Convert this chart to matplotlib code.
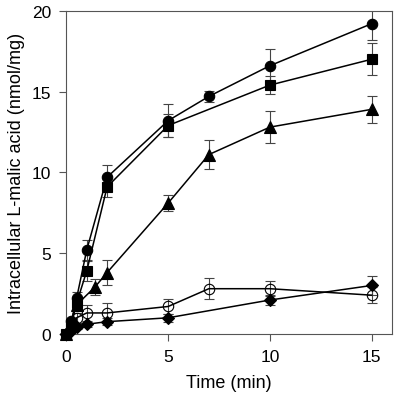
import matplotlib
matplotlib.use("Agg")
import matplotlib.pyplot as plt

plt.rcParams['font.family'] = ['Liberation Sans', 'DejaVu Sans']

# filled circles
t_circ = [0, 0.25, 0.5, 1, 2, 5, 7, 10, 15]
y_circ = [0, 0.8, 2.2, 5.2, 9.7, 13.2, 14.7, 16.6, 19.2]
e_circ = [0, 0.2, 0.4, 0.6, 0.75, 1.0, 0.35, 1.05, 1.0]

# filled squares
t_sq = [0, 0.25, 0.5, 1, 2, 5, 10, 15]
y_sq = [0, 0.6, 1.9, 3.9, 9.1, 12.9, 15.4, 17.0]
e_sq = [0, 0.2, 0.4, 0.6, 0.6, 0.7, 0.55, 1.0]

# filled triangles
t_tri = [0, 0.5, 1.4, 2, 5, 7, 10, 15]
y_tri = [0, 1.8, 2.9, 3.8, 8.1, 11.1, 12.8, 13.9]
e_tri = [0, 0.3, 0.5, 0.8, 0.5, 0.9, 1.0, 0.85]

# open circles
t_open = [0, 0.25, 0.5, 1, 2, 5, 7, 10, 15]
y_open = [0, 0.3, 1.0, 1.3, 1.3, 1.7, 2.8, 2.8, 2.4]
e_open = [0, 0.1, 0.3, 0.5, 0.6, 0.45, 0.65, 0.45, 0.5]

# filled diamonds
t_dia = [0, 0.25, 0.5, 1, 2, 5, 10, 15]
y_dia = [0, 0.2, 0.4, 0.6, 0.76, 1.0, 2.1, 3.0]
e_dia = [0, 0.1, 0.1, 0.15, 0.2, 0.25, 0.3, 0.6]

fig = plt.figure(figsize=(4.0, 4.06), dpi=100)
ax = fig.add_axes([0.166, 0.175, 0.814, 0.796])

# (t, y, err, marker, facecolor, size)
series = [
    (t_open, y_open, e_open, 'o', 'none', 7.5),
    (t_dia, y_dia, e_dia, 'D', 'black', 6.5),
    (t_tri, y_tri, e_tri, '^', 'black', 8),
    (t_sq, y_sq, e_sq, 's', 'black', 7),
    (t_circ, y_circ, e_circ, 'o', 'black', 7.5),
]
for t, y, e, m, fc, ms in series:
    ax.errorbar(t, y, yerr=e, fmt='none', ecolor='#444444', elinewidth=0.8,
                capsize=3.5, capthick=0.8, zorder=2)
    ax.plot(t, y, color='black', lw=1.1, marker=m, markersize=ms,
            markerfacecolor=fc, markeredgecolor='black', markeredgewidth=0.8,
            zorder=3, clip_on=False)

ax.set_xlim(0, 16)
ax.set_ylim(0, 20)
ax.set_xticks([0, 5, 10, 15])
ax.set_yticks([0, 5, 10, 15, 20])
ax.tick_params(direction='out', length=5, width=0.8, color='#555555',
               labelsize=12.5, pad=6)
for s in ax.spines.values():
    s.set_color('#555555')
    s.set_linewidth(0.8)

ax.set_xlabel('Time (min)', fontsize=13, labelpad=7)
ax.set_ylabel('Intracellular L-malic acid (nmol/mg)', fontsize=13, labelpad=5)

fig.savefig('out.png', dpi=100)
